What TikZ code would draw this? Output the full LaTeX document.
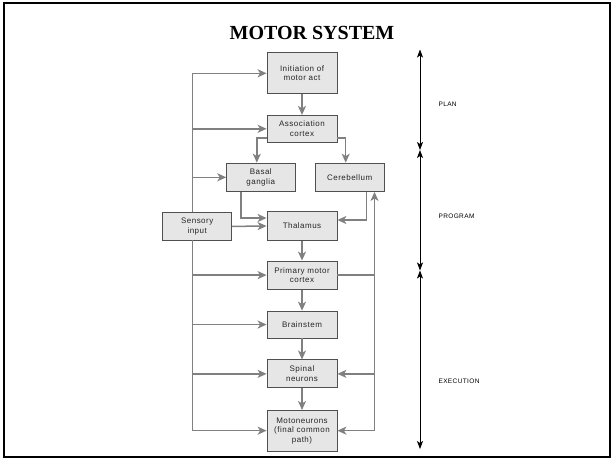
\documentclass[tikz,border=0pt]{standalone}
\usepackage{fontspec}
\setmainfont{Liberation Serif}
\newfontfamily\boxfont[LetterSpace=6]{Liberation Sans}
\usetikzlibrary{arrows.meta, positioning, calc}
\definecolor{boxFill}{RGB}{230, 230, 230}
\definecolor{boxBorder}{RGB}{80, 80, 80}
\definecolor{linkGray}{RGB}{128, 128, 128}
\tikzstyle{block} = [rectangle, minimum width=70pt, minimum height=28pt, text centered, align=center, draw=boxBorder, fill=boxFill, line width=0.8pt, font=\boxfont\fontsize{8}{9.5}\selectfont, text=black!85]
\tikzstyle{link} = [draw=linkGray, line width=1.5pt, -{Stealth[length=9pt, width=8pt, inset=2.5pt]}]
\tikzstyle{plainlink} = [draw=linkGray, line width=1.5pt]
\tikzstyle{span} = [line width=0.8pt, {Stealth[length=8pt, width=6pt, inset=2pt]}-{Stealth[length=8pt, width=6pt, inset=2pt]}]
\tikzstyle{phase} = [anchor=west, font=\boxfont\fontsize{6.5}{7}\selectfont]

\begin{document}
\begin{tikzpicture}[x=1pt, y=-1pt]
				\useasboundingbox (0,0) rectangle (612,459);
				\draw[line width=2pt] (3.5,2.5) rectangle (609.5,457);
				\node (title) [font=\bfseries\fontsize{20}{24}\selectfont] at (312,33) {MOTOR SYSTEM};
				
				\node (init) [block, minimum height=41pt] at (302,73.3) {Initiation of\\motor act};
				\node (assoc) [block, minimum height=27pt, below=20.7pt of init] {Association\\cortex};
				\node (basal) [block, minimum width=68.3pt, minimum height=28.5pt] at (260.8,177.3) {Basal\\ganglia};
				\node (cereb) [block, minimum width=69.3pt, minimum height=28.5pt] at (349.7,177.3) {Cerebellum};
				\node (sensory) [block, minimum width=69pt, minimum height=27.3pt] at (197.2,226.4) {Sensory\\input};
				\node (thal) [block, minimum height=28.3pt] at (302,226) {Thalamus};
				\node (prim) [block, minimum height=28.3pt, below=20pt of thal] {Primary motor\\cortex};
				\node (brain) [block, minimum height=27pt, below=21pt of prim] {Brainstem};
				\node (spinal) [block, minimum height=28pt, below=21pt of brain] {Spinal\\neurons};
				\node (moto) [block, minimum height=40.6pt, below=21.7pt of spinal] {Motoneurons\\(final common\\path)};
				
				\coordinate (lbus) at (192.7,0);
				\coordinate (rbus) at (374.5,0);
				
				% left feed lines
				\draw[link] (sensory.north -| lbus) |- (init.west);
				\draw[link] (lbus |- assoc.west) -- (assoc.west);
				\draw[link] (lbus |- basal.west) -- (basal.west);
				\draw[link] (sensory.south -| lbus) |- (moto.west);
				\draw[link] (lbus |- prim.west) -- (prim.west);
				\draw[link] (lbus |- brain.west) -- (brain.west);
				\draw[link] (lbus |- spinal.west) -- (spinal.west);
				\draw[link] (sensory.east) -- (thal.west);
				
				% main column
				\draw[link] (init) -- (assoc);
				\draw[link] ([yshift=-9pt]assoc.west) -| ([xshift=-4pt]basal.north);
				\draw[link] ([yshift=-9pt]assoc.east) -| ([xshift=-4pt]cereb.north);
				\draw[link] ([xshift=-20pt]basal.south) |- ([yshift=8pt]thal.west);
				\draw[link] ([xshift=17pt]cereb.south) |- ([yshift=6pt]thal.east);
				\draw[link] (thal) -- (prim);
				\draw[link] (prim) -- (brain);
				\draw[link] (brain) -- (spinal);
				\draw[link] (spinal) -- (moto);
				
				% right feed lines
				\draw[plainlink] (prim.east) -- (prim.east -| rbus) coordinate (rjoin);
				\draw[link] (rjoin) -- (rbus |- cereb.south);
				\draw[link] (rjoin) |- (moto.east);
				\draw[link] (rbus |- spinal.east) -- (spinal.east);
				
				% phases
				\coordinate (tTop) at (420,49.5);
				\coordinate (tPlan) at (420,150);
				\coordinate (tProg) at (420,270.5);
				\coordinate (tBot) at (420,449);
				\draw[span] (tTop) -- (tPlan);
				\draw[span] (tPlan) -- (tProg);
				\draw[span] (tProg) -- (tBot);
				\node (plan) [phase] at (435,104) {PLAN};
				\node (program) [phase] at (435,216.7) {PROGRAM};
				\node (execution) [phase] at (435,381.7) {EXECUTION};
			\end{tikzpicture}
\end{document}
